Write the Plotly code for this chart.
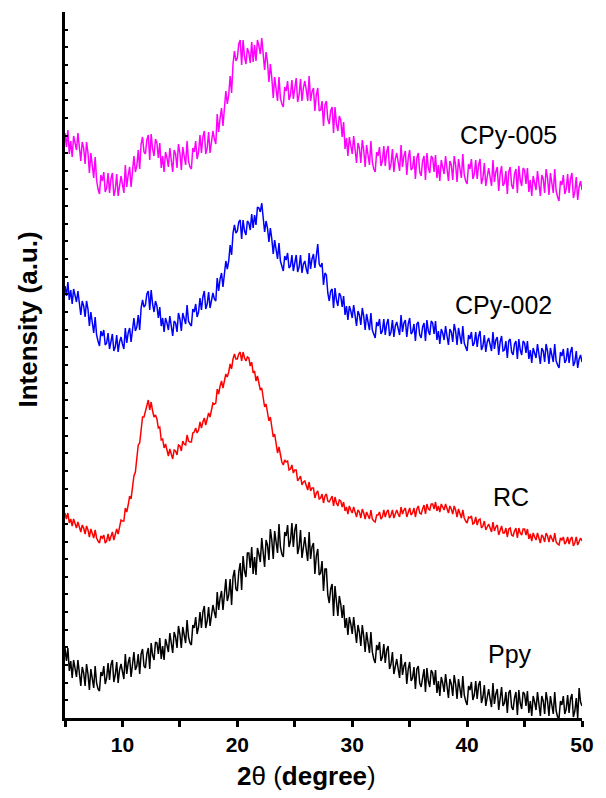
import numpy as np
import plotly.graph_objects as go

# 2-theta grid (degrees), 0.125 deg steps from 5 to 50; each row below covers one degree
two_theta = np.round(np.arange(5.0, 50.0001, 0.125), 3)

# Offset XRD intensities (a.u.)
cpy_005 = [
    585, 571, 588, 564, 577, 561, 582, 576,
    568, 585, 571, 557, 576, 570, 554, 576,
    565, 545, 565, 552, 540, 561, 538, 529,
    524, 543, 537, 546, 526, 530, 545, 525,
    539, 545, 522, 528, 544, 522, 535, 542,
    534, 525, 553, 531, 543, 551, 531, 551,
    562, 546, 552, 568, 549, 574, 581, 566,
    564, 578, 583, 558, 584, 569, 562, 579,
    575, 560, 575, 550, 562, 546, 566, 560,
    551, 570, 558, 546, 568, 564, 550, 574,
    565, 548, 571, 562, 553, 577, 557, 551,
    549, 570, 566, 577, 559, 566, 583, 565,
    581, 587, 564, 570, 586, 565, 579, 587,
    579, 574, 604, 586, 600, 610, 592, 614,
    627, 614, 623, 642, 625, 654, 667, 657,
    660, 674, 678, 653, 678, 661, 654, 670,
    665, 655, 676, 656, 673, 657, 678, 672,
    664, 680, 664, 648, 666, 656, 636, 654,
    640, 620, 641, 629, 617, 641, 620, 614,
    611, 631, 627, 637, 618, 623, 638, 619,
    633, 640, 616, 623, 639, 617, 630, 637,
    628, 617, 642, 617, 626, 630, 607, 623,
    630, 607, 608, 617, 592, 613, 617, 599,
    594, 607, 611, 585, 611, 594, 587, 602,
    598, 581, 596, 569, 580, 562, 581, 573,
    564, 582, 568, 555, 575, 570, 555, 578,
    568, 551, 573, 563, 553, 577, 556, 549,
    546, 566, 562, 571, 552, 557, 572, 552,
    566, 572, 548, 554, 569, 546, 559, 565,
    556, 547, 573, 551, 562, 567, 543, 560,
    568, 548, 550, 562, 539, 560, 565, 546,
    542, 557, 562, 538, 565, 550, 545, 562,
    560, 546, 563, 540, 553, 537, 558, 552,
    544, 562, 549, 537, 557, 553, 538, 562,
    553, 536, 559, 549, 540, 564, 543, 537,
    534, 554, 549, 559, 539, 544, 558, 539,
    553, 559, 534, 540, 555, 532, 544, 550,
    541, 532, 558, 536, 546, 551, 527, 544,
    552, 532, 535, 547, 524, 546, 551, 533,
    529, 544, 549, 525, 552, 538, 532, 550,
    548, 534, 550, 526, 538, 522, 542, 536,
    528, 547, 534, 522, 543, 539, 525, 549,
    540, 523, 545, 535, 525, 549, 527, 521,
    517, 537, 533, 543, 524, 529, 544, 525,
    539, 545, 520, 526, 541, 518, 531, 537,
    528,
]

cpy_002 = [
    432, 422, 436, 418, 428, 414, 429, 423,
    416, 427, 415, 403, 417, 412, 401, 417,
    409, 392, 406, 395, 385, 401, 383, 377,
    372, 387, 382, 388, 373, 375, 385, 369,
    379, 384, 367, 371, 383, 366, 376, 381,
    374, 369, 390, 375, 385, 390, 376, 391,
    400, 387, 391, 403, 388, 410, 418, 411,
    413, 424, 427, 408, 428, 414, 406, 417,
    412, 400, 411, 392, 400, 386, 400, 395,
    388, 402, 391, 382, 397, 395, 386, 405,
    399, 387, 405, 400, 394, 413, 397, 394,
    392, 409, 406, 414, 401, 406, 420, 408,
    421, 427, 409, 414, 426, 410, 420, 425,
    419, 417, 440, 427, 439, 445, 431, 448,
    457, 449, 457, 473, 463, 485, 493, 485,
    487, 496, 498, 479, 498, 487, 483, 497,
    495, 488, 504, 490, 503, 493, 511, 510,
    506, 515, 500, 486, 497, 490, 476, 490,
    479, 464, 478, 469, 459, 475, 457, 452,
    447, 462, 458, 465, 450, 452, 463, 447,
    457, 463, 446, 451, 463, 445, 454, 457,
    449, 444, 465, 449, 459, 464, 450, 465,
    474, 454, 451, 455, 433, 445, 443, 425,
    417, 427, 429, 410, 430, 418, 412, 425,
    422, 411, 422, 403, 412, 398, 412, 407,
    400, 413, 402, 392, 407, 403, 393, 410,
    402, 388, 404, 396, 388, 405, 388, 384,
    380, 396, 392, 399, 384, 387, 399, 383,
    394, 399, 382, 386, 398, 381, 392, 396,
    389, 383, 403, 386, 395, 398, 381, 394,
    400, 384, 386, 394, 377, 394, 396, 383,
    380, 391, 395, 377, 398, 387, 383, 397,
    395, 384, 397, 378, 387, 374, 389, 385,
    378, 392, 382, 373, 389, 386, 376, 394,
    387, 373, 390, 382, 374, 392, 375, 371,
    367, 383, 379, 386, 372, 375, 386, 371,
    382, 387, 368, 372, 383, 366, 376, 380,
    373, 367, 386, 369, 378, 381, 363, 376,
    382, 367, 368, 377, 360, 377, 379, 366,
    363, 374, 377, 359, 379, 368, 363, 377,
    375, 365, 377, 359, 368, 355, 370, 366,
    360, 374, 363, 354, 370, 367, 356, 374,
    367, 354, 370, 363, 356, 374, 357, 353,
    350, 366, 362, 369, 355, 358, 370, 355,
    366, 371, 352, 356, 367, 350, 359, 363,
    356,
]

rc = [
    205, 199, 205, 195, 199, 192, 199, 194,
    190, 196, 192, 186, 193, 190, 184, 192,
    188, 181, 189, 184, 180, 188, 180, 177,
    175, 182, 180, 183, 175, 177, 184, 177,
    183, 186, 178, 183, 189, 184, 191, 198,
    197, 197, 210, 206, 213, 222, 219, 232,
    242, 246, 257, 273, 275, 291, 301, 301,
    307, 314, 318, 308, 316, 307, 301, 303,
    299, 290, 291, 278, 279, 270, 274, 268,
    262, 269, 264, 259, 268, 267, 263, 273,
    272, 267, 277, 274, 273, 283, 277, 276,
    276, 285, 286, 290, 285, 288, 296, 290,
    296, 300, 293, 298, 305, 301, 308, 315,
    314, 315, 329, 324, 332, 337, 330, 339,
    344, 341, 346, 354, 349, 359, 364, 359,
    359, 364, 366, 357, 366, 360, 357, 361,
    360, 352, 356, 345, 347, 337, 342, 335,
    328, 330, 321, 311, 314, 307, 297, 301,
    293, 281, 284, 274, 265, 271, 261, 256,
    253, 258, 256, 257, 248, 249, 253, 245,
    248, 248, 237, 239, 242, 233, 236, 237,
    232, 228, 236, 227, 230, 230, 220, 225,
    227, 219, 220, 224, 215, 222, 224, 217,
    216, 220, 222, 212, 221, 215, 212, 218,
    217, 211, 216, 207, 211, 204, 212, 208,
    205, 211, 207, 201, 208, 206, 200, 209,
    205, 199, 206, 202, 199, 208, 199, 197,
    196, 203, 203, 206, 199, 201, 208, 201,
    206, 208, 200, 203, 208, 200, 205, 208,
    204, 201, 211, 204, 208, 210, 201, 207,
    210, 203, 205, 210, 201, 209, 212, 205,
    204, 209, 213, 204, 214, 209, 208, 214,
    214, 209, 216, 207, 212, 206, 214, 211,
    208, 214, 210, 205, 212, 209, 204, 212,
    208, 201, 209, 204, 200, 208, 200, 197,
    195, 201, 200, 202, 194, 195, 201, 193,
    198, 199, 190, 192, 197, 188, 192, 194,
    190, 186, 196, 187, 191, 193, 183, 189,
    192, 185, 185, 190, 181, 189, 190, 183,
    182, 187, 190, 180, 190, 185, 183, 189,
    189, 183, 189, 179, 184, 177, 185, 181,
    178, 185, 180, 175, 183, 181, 176, 185,
    182, 176, 183, 179, 176, 185, 176, 174,
    173, 180, 178, 181, 174, 176, 181, 174,
    179, 181, 172, 175, 181, 173, 177, 180,
    177,
]

ppy = [
    70, 57, 70, 47, 57, 40, 58, 51,
    41, 58, 44, 32, 51, 45, 32, 54,
    44, 28, 49, 39, 30, 52, 35, 29,
    27, 46, 42, 52, 34, 40, 55, 38,
    53, 58, 36, 43, 56, 35, 48, 54,
    46, 39, 64, 44, 55, 61, 41, 57,
    66, 48, 52, 64, 44, 64, 69, 52,
    50, 64, 70, 49, 75, 63, 58, 76,
    75, 64, 80, 59, 72, 58, 79, 73,
    66, 85, 74, 65, 86, 81, 70, 92,
    84, 70, 91, 83, 75, 98, 81, 75,
    73, 93, 90, 101, 84, 91, 106, 90,
    106, 112, 90, 97, 111, 92, 105, 113,
    106, 100, 126, 108, 120, 127, 108, 126,
    139, 117, 123, 139, 113, 141, 148, 129,
    127, 146, 155, 128, 162, 147, 141, 165,
    165, 150, 171, 144, 161, 143, 170, 164,
    156, 180, 165, 151, 178, 173, 158, 189,
    178, 159, 187, 175, 165, 194, 171, 164,
    161, 186, 182, 193, 171, 177, 195, 171,
    188, 194, 164, 171, 188, 160, 174, 181,
    168, 157, 186, 159, 171, 175, 144, 162,
    169, 143, 145, 157, 127, 149, 149, 123,
    115, 129, 134, 102, 132, 112, 102, 122,
    114, 100, 113, 90, 100, 83, 101, 94,
    84, 101, 87, 75, 93, 86, 72, 93,
    82, 66, 86, 75, 65, 86, 66, 59,
    55, 73, 68, 76, 57, 61, 74, 55,
    68, 72, 49, 54, 66, 44, 54, 59,
    49, 40, 64, 43, 52, 56, 34, 49,
    56, 37, 40, 51, 29, 49, 52, 35,
    31, 43, 49, 26, 50, 37, 31, 48,
    45, 33, 48, 25, 37, 22, 41, 35,
    26, 44, 31, 20, 39, 34, 22, 43,
    34, 19, 39, 30, 20, 42, 23, 17,
    13, 32, 28, 36, 18, 23, 37, 19,
    33, 37, 15, 21, 33, 12, 23, 29,
    19, 11, 35, 14, 24, 29, 8, 23,
    31, 12, 15, 26, 5, 25, 28, 11,
    8, 20, 26, 3, 28, 15, 9, 26,
    24, 12, 27, 5, 17, 2, 22, 16,
    8, 26, 13, 2, 22, 17, 4, 26,
    17, 2, 22, 13, 4, 26, 7, 1,
    0, 17, 13, 22, 4, 9, 23, 5,
    19, 24, 1, 7, 20, 0, 30, 16,
    12,
]

series = [
    ("Ppy", ppy, "#000000"),
    ("RC", rc, "#FF0000"),
    ("CPy-002", cpy_002, "#0000FF"),
    ("CPy-005", cpy_005, "#FF00FF"),
]

# Sample names beside each pattern: (text, 2-theta, intensity)
labels = [
    ("CPy-005", 43.6, 583),
    ("CPy-002", 43.15, 413),
    ("RC", 43.8, 221),
    ("Ppy", 43.75, 64),
]

x_ticks = [5, 10, 15, 20, 25, 30, 35, 40, 45, 50]
x_tick_text = ["", "10", "", "20", "", "30", "", "40", "", "50"]

FONT = "Liberation Sans, Arial, sans-serif"

fig = go.Figure()
for name, vals, color in series:
    fig.add_trace(go.Scatter(
        x=two_theta, y=vals, mode="lines", name=name,
        line=dict(color=color, width=1.5), showlegend=False,
    ))

for text, xv, yv in labels:
    fig.add_annotation(
        x=xv, y=yv, text=text, showarrow=False, xanchor="center", yanchor="middle",
        font=dict(family=FONT, size=25, color="#000000"),
    )

fig.add_annotation(
    xref="paper", yref="paper", x=0.467, y=-0.082, xanchor="center", yanchor="middle",
    text="<b>2</b>θ (<b>degree</b>)", showarrow=False,
    font=dict(family=FONT, size=26, color="#000000"),
)
fig.add_annotation(
    xref="paper", yref="paper", x=-0.072, y=0.564, xanchor="center", yanchor="middle",
    text="<b>Intensity (a.u.)</b>", textangle=-90, showarrow=False,
    font=dict(family=FONT, size=26, color="#000000"),
)

fig.update_layout(
    width=606, height=798,
    margin=dict(l=65, r=14, t=12, b=80),
    paper_bgcolor="white", plot_bgcolor="white",
)
fig.update_xaxes(
    range=[5, 50], tickvals=x_ticks, ticktext=x_tick_text,
    showline=True, linecolor="black", linewidth=3, mirror=False,
    ticks="outside", ticklen=6, tickwidth=2.5, tickcolor="black",
    showgrid=False, zeroline=False,
    tickfont=dict(family=FONT, size=21, color="black", weight="bold"),
)
fig.update_yaxes(
    range=[0, 706], tick0=0, dtick=17.65,
    showline=True, linecolor="black", linewidth=3, mirror=False,
    ticks="inside", ticklen=3, tickwidth=1.5, tickcolor="black",
    showticklabels=False, showgrid=False, zeroline=False,
)

fig.write_html("out.html")
